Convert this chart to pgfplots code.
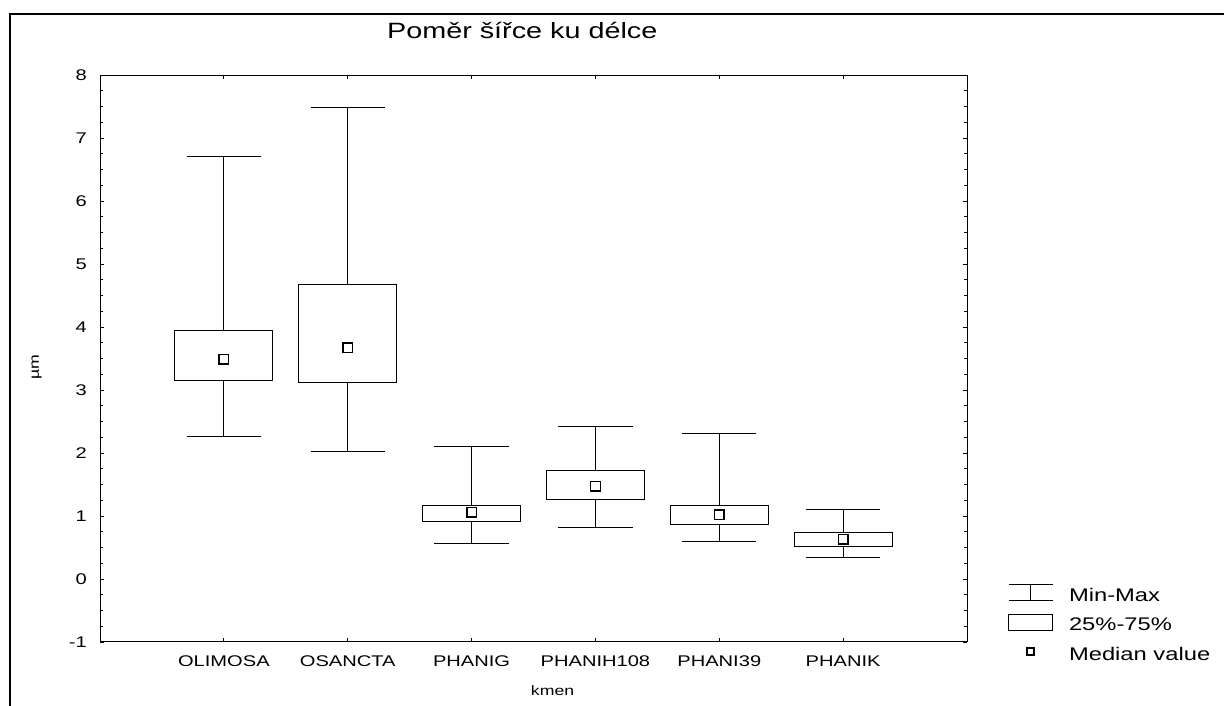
\documentclass[border=0pt]{standalone}
\usepackage{fontspec}
\setmainfont{Liberation Sans}[FakeStretch=1.3]
\usepackage{pgfplots}
\pgfplotsset{compat=1.18}
\usepgfplotslibrary{statistics}
\begin{document}
\begin{tikzpicture}
\useasboundingbox (0,0) rectangle (918pt,529.5pt);
\fill[white] (0,0) rectangle (918pt,529.5pt);
\draw[line width=1.5pt] (7.5pt,0pt) -- (7.5pt,519pt) -- (918pt,519pt);
\begin{axis}[
  at={(75pt,48pt)}, anchor=south west,
  scale only axis, width=650.25pt, height=425.25pt,
  xmin=0, xmax=7, ymin=-1, ymax=8,
  xtick={1,2,3,4,5,6},
  xticklabels={OLIMOSA,OSANCTA,PHANIG,PHANIH108,PHANI39,PHANIK},
  ytick={-1,0,1,2,3,4,5,6,7,8},
  minor y tick num=3,
  tick align=inside, xtick pos=both, ytick pos=both,
  major tick length=3pt, minor tick length=2.2pt,
  axis line style={line width=0.75pt},
  every tick/.style={black, line width=0.6pt},
  /pgf/number format/assume math mode=true,
  tick label style={font=\fontsize{11.6}{12}\selectfont},
  xticklabel style={anchor=base, yshift=-18.75pt, inner sep=0pt},
  yticklabel style={anchor=east, inner sep=0pt, xshift=-9.75pt},
  title={Poměr šířce ku délce},
  title style={at={(axis description cs:0.487,1.051)}, anchor=base, inner sep=0pt, font=\fontsize{16.6}{18}\selectfont},
  xlabel={kmen},
  xlabel style={at={(axis description cs:0.522,-0.0935)}, anchor=base, inner sep=0pt, font=\fontsize{10.2}{11}\selectfont},
  ylabel={µm},
  ylabel style={at={(axis description cs:-0.073,0.485)}, anchor=center, inner sep=0pt, font=\fontsize{10.2}{11}\selectfont},
  legend style={at={(axis description cs:1.0473,0.121)}, anchor=north west, draw=none, fill=none,
    inner sep=0pt, outer sep=0pt, row sep=0pt, nodes={inner sep=0pt},
    font=\fontsize{13.7}{15}\selectfont},
  legend cell align=left,
  /tikz/every odd column/.style={column sep=12pt},
  boxplot/draw direction=y,
  boxplot/box extend=0.79,
  boxplot/whisker extend=0.6,
  boxplot/every median/.style={draw=none},
]
\addplot[black, line width=0.75pt, forget plot, boxplot prepared={draw position=1, lower whisker=2.26, lower quartile=3.15, median=3.49, upper quartile=3.95, upper whisker=6.70}] coordinates {};
\addplot[black, line width=0.75pt, forget plot, boxplot prepared={draw position=2, lower whisker=2.02, lower quartile=3.12, median=3.67, upper quartile=4.67, upper whisker=7.48}] coordinates {};
\addplot[black, line width=0.75pt, forget plot, boxplot prepared={draw position=3, lower whisker=0.57, lower quartile=0.92, median=1.06, upper quartile=1.17, upper whisker=2.10}] coordinates {};
\addplot[black, line width=0.75pt, forget plot, boxplot prepared={draw position=4, lower whisker=0.81, lower quartile=1.26, median=1.47, upper quartile=1.72, upper whisker=2.42}] coordinates {};
\addplot[black, line width=0.75pt, forget plot, boxplot prepared={draw position=5, lower whisker=0.60, lower quartile=0.87, median=1.02, upper quartile=1.17, upper whisker=2.31}] coordinates {};
\addplot[black, line width=0.75pt, forget plot, boxplot prepared={draw position=6, lower whisker=0.34, lower quartile=0.51, median=0.63, upper quartile=0.74, upper whisker=1.10}] coordinates {};
\addplot[forget plot, only marks, mark=square, mark size=3.6pt, mark options={black, line width=1.1pt, fill=white}] coordinates {
(1,3.49) (2,3.67) (3,1.06) (4,1.47) (5,1.02) (6,0.63)};
\addlegendimage{legend image code/.code={
  \path[draw=none, fill=none] (0pt,-4pt) rectangle (33pt,16.6pt);
  \draw[black, line width=0.75pt] (0pt,-3.6pt) -- (33pt,-3.6pt);
  \draw[black, line width=0.75pt] (0pt,8.4pt) -- (33pt,8.4pt);
  \draw[black, line width=0.75pt] (16.5pt,-3.6pt) -- (16.5pt,8.4pt);}}
\addlegendentry{Min-Max}
\addlegendimage{legend image code/.code={
  \path[draw=none, fill=none] (0pt,-4pt) rectangle (33pt,16.6pt);
  \draw[black, line width=0.75pt] (0pt,-3.6pt) rectangle (33pt,8.4pt);}}
\addlegendentry{25\%-75\%}
\addlegendimage{legend image code/.code={
  \path[draw=none, fill=none] (0pt,-4pt) rectangle (33pt,16.6pt);
  \draw[black, line width=1pt] (13.9pt,-0.2pt) rectangle (19.1pt,5pt);}}
\addlegendentry{Median value}
\end{axis}
\end{tikzpicture}
\end{document}
